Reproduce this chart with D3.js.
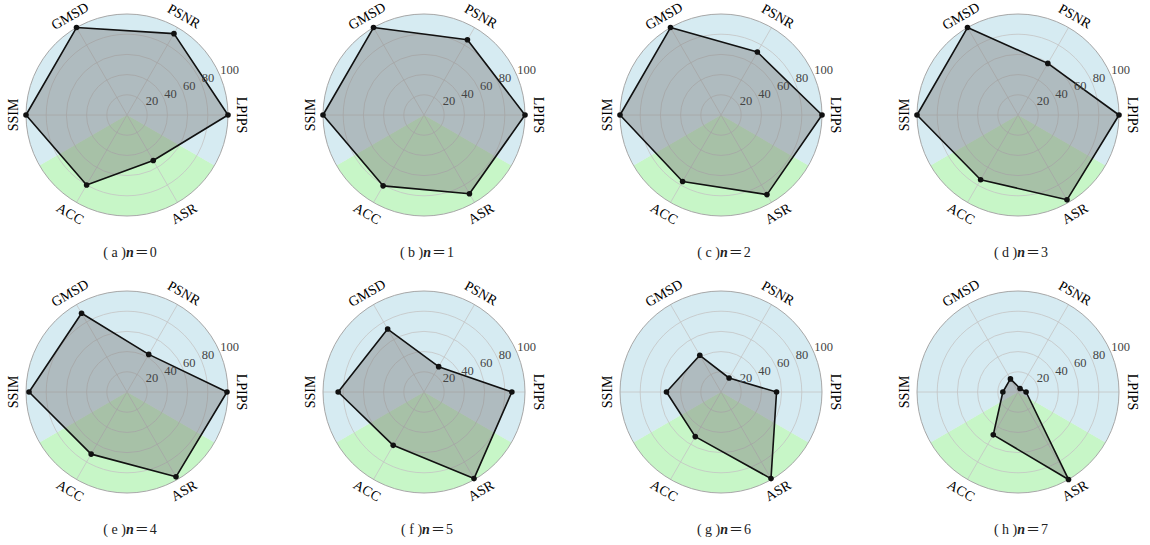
<!DOCTYPE html>
<html lang="zh">
    <head>
        <meta charset="utf-8">
        <title>Radar panels</title>
        <script type="text/javascript" src="https://d3js.org/d3.v7.min.js"></script>
        <style>
            body { margin: 0; background: #fff; }
            text { font-family: "Liberation Serif", "Noto Sans CJK SC", serif; }
            .grid { fill: none; stroke: #c4c4c4; stroke-width: 0.8; }
        </style>
    </head>
    <body>
        <svg id="chart" width="1150" height="545"></svg>
    </body>
    <script>
        // metric order, counter-clockwise starting at the right
        let metrics = ["LPIPS", "PSNR", "GMSD", "SSIM", "ACC", "ASR"];
        let ticks = [20, 40, 60, 80, 100];
        let letters = ["a", "b", "c", "d", "e", "f", "g", "h"];
        let nValues = [0, 1, 2, 3, 4, 5, 6, 7];

        // values read per panel (n = 0 .. 7)
        let n0 = [100, 93, 100, 100, 80, 52];
        let n1 = [100, 86, 100, 100, 81, 90];
        let n2 = [100, 72, 100, 100, 76, 91];
        let n3 = [100, 59, 100, 100, 74, 97];
        let n4 = [99, 43, 90, 97, 71, 97];
        let n5 = [87, 29, 72, 85, 61, 99];
        let n6 = [55, 16, 42, 54, 51, 99];
        let n7 = [8, 4, 15, 15, 49, 100];
        let series = [n0, n1, n2, n3, n4, n5, n6, n7];

        let svg = d3.select("#chart");
        let R = 101;
        let colX = [127, 424, 721, 1018];
        let rowY = [115, 392];

        let r = d3.scaleLinear().domain([0, 100]).range([0, R]);
        // math angle (deg, ccw from east) for each metric
        let mathAngle = d3.scaleLinear().domain([0, metrics.length]).range([0, 360]);
        let toD3 = deg => (90 - deg) * Math.PI / 180;   // d3 angles: clockwise from 12 o'clock

        let bgArc = d3.arc().innerRadius(0).outerRadius(R);

        series.forEach((vals, k) => {
            let cx = colX[k % 4], cy = rowY[Math.floor(k / 4)];
            let g = svg.append("g").attr("transform", "translate(" + cx + "," + cy + ")");

            // background: green for ACC/ASR sectors, blue elsewhere
            g.append("path")
                .attr("d", bgArc({startAngle: toD3(330), endAngle: toD3(330) + 2 * Math.PI / 3}))
                .attr("fill", "lightgreen").attr("fill-opacity", 0.5);
            g.append("path")
                .attr("d", bgArc({startAngle: toD3(330) + 2 * Math.PI / 3, endAngle: toD3(330) + 2 * Math.PI}))
                .attr("fill", "lightblue").attr("fill-opacity", 0.5);

            // rings and spokes
            g.selectAll(".ring").data(ticks.slice(0, -1)).enter()
                .append("circle").attr("class", "grid").attr("r", d => r(d));
            g.selectAll(".spoke").data(metrics).enter()
                .append("line").attr("class", "grid")
                .attr("x2", (d, i) => r(100) * Math.cos(mathAngle(i) * Math.PI / 180))
                .attr("y2", (d, i) => -r(100) * Math.sin(mathAngle(i) * Math.PI / 180));
            g.append("circle").attr("r", R)
                .attr("fill", "none").attr("stroke", "#a8a8a8").attr("stroke-width", 1);

            // data polygon
            let line = d3.lineRadial()
                .angle((d, i) => toD3(mathAngle(i)))
                .radius(d => r(d))
                .curve(d3.curveLinearClosed);
            g.append("path")
                .attr("d", line(vals))
                .attr("fill", "gray").attr("fill-opacity", 0.45)
                .attr("stroke", "#111").attr("stroke-width", 1.6)
                .attr("stroke-linejoin", "round");
            g.selectAll(".dot").data(vals).enter()
                .append("circle")
                .attr("cx", (d, i) => r(d) * Math.cos(mathAngle(i) * Math.PI / 180))
                .attr("cy", (d, i) => -r(d) * Math.sin(mathAngle(i) * Math.PI / 180))
                .attr("r", 2.8).attr("fill", "#111");

            // radial tick labels at 22.5 degrees
            let la = 22.5 * Math.PI / 180;
            g.selectAll(".tick").data(ticks).enter()
                .append("text")
                .attr("x", d => r(d) * Math.cos(la))
                .attr("y", d => -r(d) * Math.sin(la) - 2)
                .attr("font-size", 12.5).attr("fill", "#444")
                .text(d => d);

            // metric labels, rotated tangentially
            g.selectAll(".label").data(metrics).enter()
                .append("text")
                .attr("text-anchor", "middle")
                .attr("dominant-baseline", "central")
                .attr("font-size", 14).attr("fill", "#000")
                .attr("transform", (d, i) => {
                    let a = mathAngle(i);
                    let x = 114 * Math.cos(a * Math.PI / 180), y = -114 * Math.sin(a * Math.PI / 180);
                    let rot = (a > 180 && a < 360) ? 270 - a : 90 - a;
                    return "translate(" + x + "," + y + ") rotate(" + rot + ")";
                })
                .text(d => d);

            // caption
            let cap = svg.append("text")
                .attr("x", cx + 3).attr("y", cy + 142)
                .attr("text-anchor", "middle")
                .attr("font-size", 14).attr("fill", "#222");
            cap.append("tspan").text("( " + letters[k] + " )");
            cap.append("tspan").attr("font-style", "italic").attr("font-weight", "bold").text("n");
            cap.append("tspan").attr("dx", 1).text("＝");
            cap.append("tspan").attr("dx", 1).text(nValues[k]);
        });
    </script>
</html>
